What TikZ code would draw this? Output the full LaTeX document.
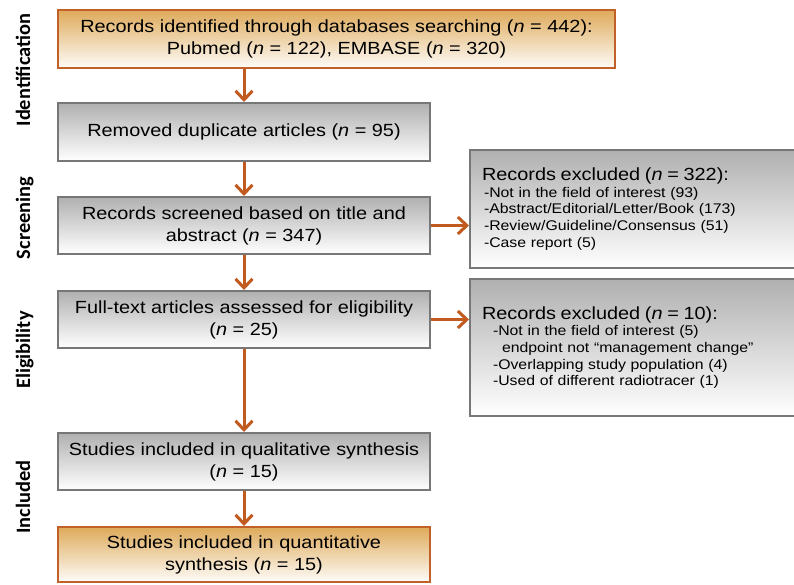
\documentclass[tikz,border=0pt]{standalone}
\usepackage{fontspec}
\setmainfont{Liberation Sans}
\newfontfamily\boxfont[FakeStretch=1.13]{Liberation Sans}
\newfontfamily\sidefont{Carlito}
\usetikzlibrary{arrows.meta}
\definecolor{orfill}{HTML}{DEAA5A}
\definecolor{orline}{HTML}{C2602A}
\definecolor{grfill}{HTML}{B0B0B0}
\definecolor{grline}{HTML}{777777}
\definecolor{arrc}{HTML}{C05A1E}
\begin{document}
\begin{tikzpicture}[x=1pt,y=-1pt,
  base/.style={rectangle, line width=2pt, inner sep=0pt, align=center,
    font=\boxfont\fontsize{17.6pt}{22pt}\selectfont},
  orbox/.style={base, draw=orline, top color=orfill, bottom color=orfill!4!white},
  grbox/.style={base, draw=grline, top color=grfill, bottom color=white},
  exbox/.style={grbox, align=left, inner xsep=12pt, inner ysep=0pt,
    text width=306pt, font=\boxfont\fontsize{14pt}{16.7pt}\selectfont},
  side/.style={rotate=90, anchor=base, font=\sidefont\bfseries\fontsize{20.4pt}{24pt}\selectfont},
  arr/.style={draw=arrc, line width=3pt, -{Straight Barb[length=9pt,width=17pt]}}]
\useasboundingbox (0,0) rectangle (794,584);
\clip (0,0) rectangle (794,584);
\fill[white] (0,0) rectangle (794,584);

\node[orbox, minimum width=557pt, minimum height=58pt] (T) at (336.5,39)
  {Records identified through databases searching (\textit{n} = 442):\\
   Pubmed (\textit{n} = 122), EMBASE (\textit{n} = 320)};
\node[grbox, minimum width=372pt, minimum height=58pt] (B2) at (244,132)
  {Removed duplicate articles (\textit{n} = 95)};
\node[grbox, minimum width=372pt, minimum height=57pt] (B3) at (244,225.5)
  {Records screened based on title and\\abstract (\textit{n} = 347)};
\node[grbox, minimum width=372pt, minimum height=57pt] (B4) at (244,319.5)
  {Full-text articles assessed for eligibility\\(\textit{n} = 25)};
\node[grbox, minimum width=372pt, minimum height=57pt] (B5) at (244,461.5)
  {Studies included in qualitative synthesis\\(\textit{n} = 15)};
\node[orbox, minimum width=372pt, minimum height=55pt] (B6) at (244,554.5)
  {Studies included in quantitative\\synthesis (\textit{n} = 15)};

\node[exbox, minimum height=118pt] (R1) at (635,209)
  {{\fontsize{17.6pt}{22pt}\selectfont Records excluded (\textit{n} = 322):}\\
   \hspace*{2pt}-Not in the field of interest (93)\\
   \hspace*{2pt}-Abstract/Editorial/Letter/Book (173)\\
   \hspace*{2pt}-Review/Guideline/Consensus (51)\\
   \hspace*{2pt}-Case report (5)};
\node[exbox, minimum height=137pt] (R2) at (635,347.5)
  {{\fontsize{17.6pt}{22pt}\selectfont Records excluded (\textit{n} = 10):}\\
   \hspace*{11pt}-Not in the field of interest (5)\\
   \hspace*{20pt}endpoint not “management change”\\
   \hspace*{11pt}-Overlapping study population (4)\\
   \hspace*{11pt}-Used of different radiotracer (1)};

\node[side] (L1) at (30,70) {Identification};
\node[side] (L2) at (30,218) {Screening};
\node[side] (L3) at (30,350) {Eligibility};
\node[side] (L4) at (30,497) {Included};

\draw[arr] (T.south -| B2.north) -- (B2.north);
\draw[arr] (B2.south) -- (B3.north);
\draw[arr] (B3.south) -- (B4.north);
\draw[arr] (B4.south) -- (B5.north);
\draw[arr] (B5.south) -- (B6.north);
\draw[arr] (B3.east) -- (B3.east -| R1.west);
\draw[arr] (B4.east) -- (B4.east -| R2.west);
\end{tikzpicture}
\end{document}
